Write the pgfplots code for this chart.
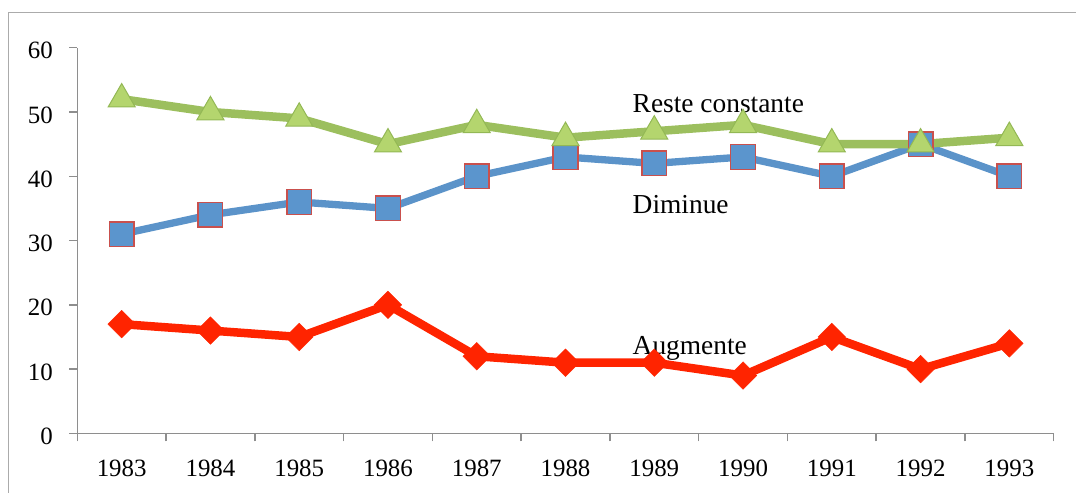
\documentclass[border=0pt]{standalone}
\usepackage{fontspec}
\setmainfont{Liberation Serif}
\usepackage{pgfplots}
\pgfplotsset{compat=1.18}
\definecolor{gline}{HTML}{9CBF5E}
\definecolor{gfill}{HTML}{B4D56E}
\definecolor{gedge}{HTML}{93B855}
\definecolor{bline}{HTML}{5B93C9}
\definecolor{bfill}{HTML}{5B95CD}
\definecolor{sqedge}{HTML}{C9504D}
\definecolor{rline}{HTML}{FF2400}
\definecolor{axgray}{HTML}{8E8E8E}
\definecolor{framegray}{HTML}{ABABAB}
\newfontfamily\tickfont{Liberation Serif}
\begin{document}
\begin{tikzpicture}[x=1bp,y=1bp]
\useasboundingbox (0,0) rectangle (1076,-493);
\begin{scope}
\clip (0,0) rectangle (1076,-493);
\draw[framegray, line width=1.5bp] (8.3,-12.7) rectangle (1100,-530);
\end{scope}
\begin{axis}[
  at={(77.3bp,-433.4bp)}, anchor=south west,
  scale only axis, width=976.4bp, height=385.7bp,
  xmin=-0.5, xmax=10.5, ymin=0, ymax=60,
  axis x line*=bottom, axis y line*=left,
  axis line style={axgray, line width=1.5bp, -},
  tick align=outside, major tick length=8bp,
  tick style={axgray, line width=1.5bp},
  xtick={-0.5,0.5,1.5,2.5,3.5,4.5,5.5,6.5,7.5,8.5,9.5,10.5},
  xticklabels={1983,1984,1985,1986,1987,1988,1989,1990,1991,1992,1993,{}},
  xticklabel style={font=\tickfont\fontsize{25}{30}\selectfont, anchor=base, xshift=44.4bp, yshift=-35.5bp},
  ytick={0,10,20,30,40,50,60},
  yticklabel={\tickfont\pgfmathprintnumber{\tick}},
  yticklabel style={font=\tickfont\fontsize{25}{30}\selectfont, xshift=-13bp, yshift=-3bp},
  /pgf/number format/assume math mode=true,
  clip=false,
]
\addplot[rline, line width=8.5bp, mark=square*, mark size=9.7bp,
  mark options={rotate=45, fill=rline, draw=rline, line width=0.5bp}]
  coordinates {(0,17)(1,16)(2,15)(3,20)(4,12)(5,11)(6,11)(7,9)(8,15)(9,10)(10,14)};
\addplot[bline, line width=7.3bp, mark=square*, mark size=12.3bp,
  mark options={fill=bfill, draw=sqedge, line width=1.5bp}]
  coordinates {(0,31)(1,34)(2,36)(3,35)(4,40)(5,43)(6,42)(7,43)(8,40)(9,45)(10,40)};
\addplot[gline, line width=8.5bp, mark=triangle*, mark size=15.6bp,
  mark options={fill=gfill, draw=gedge, line width=1bp}]
  coordinates {(0,52)(1,50)(2,49)(3,45)(4,48)(5,46)(6,47)(7,48)(8,45)(9,45)(10,46)};
\node[anchor=base west, inner sep=0pt, font=\tickfont\fontsize{27.5}{32}\selectfont] at (axis cs:5.755,49.85) {Reste constante};
\node[anchor=base west, inner sep=0pt, font=\tickfont\fontsize{27.5}{32}\selectfont] at (axis cs:5.755,34.2) {Diminue};
\node[anchor=base west, inner sep=0pt, font=\tickfont\fontsize{27.5}{32}\selectfont] at (axis cs:5.755,12.25) {Augmente};
\end{axis}
\end{tikzpicture}
\end{document}
